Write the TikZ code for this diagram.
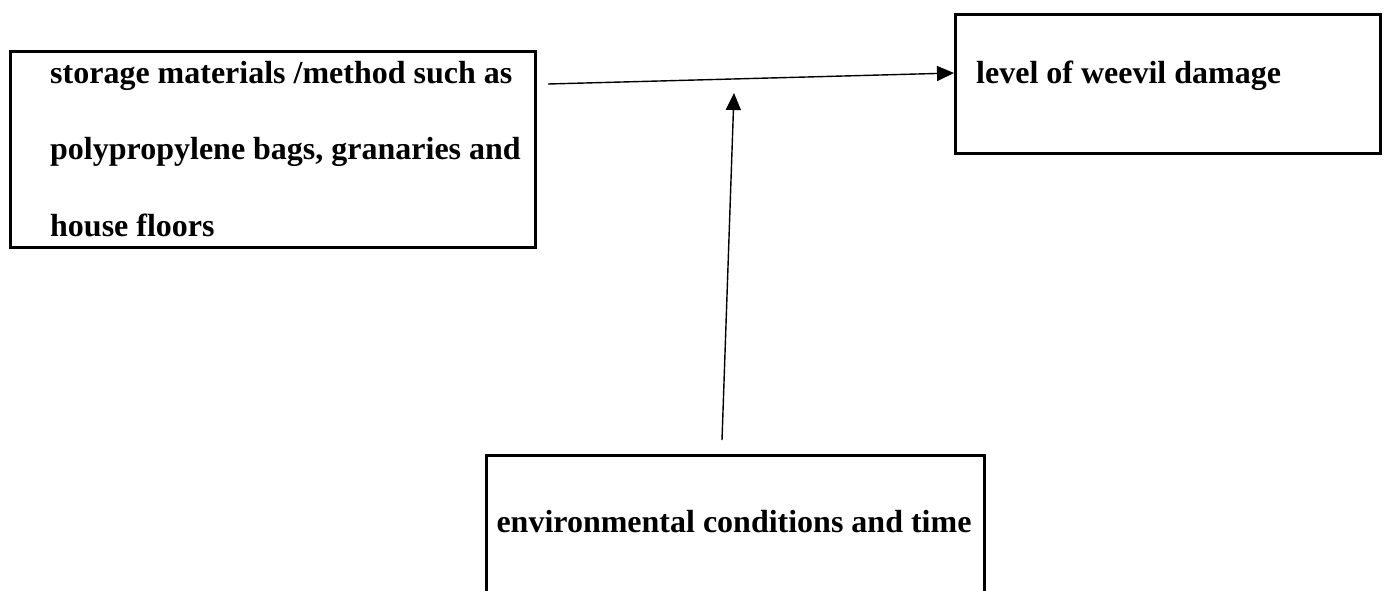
\documentclass[tikz,border=0pt]{standalone}
\usepackage{fontspec}
\setmainfont{Liberation Serif}
\usetikzlibrary{arrows.meta}
\begin{document}
\begin{tikzpicture}[x=1pt,y=-1pt,
  box/.style={draw=black, line width=3pt, rectangle, inner sep=0pt, anchor=north west},
  lbl/.style={font=\fontsize{32}{76.5}\selectfont\bfseries, inner sep=0pt, align=left},
  arr/.style={line width=1.4pt, -{Triangle[length=17pt,width=15pt]}}]
\useasboundingbox (0,0) rectangle (1386,590);
\clip (0,0) rectangle (1386,590);
\fill[white] (0,0) rectangle (1386,590);
% boxes
\node[box, minimum width=525pt, minimum height=196pt] (src) at (9,50) {};
\node[box, minimum width=425pt, minimum height=139pt] (dst) at (954,13) {};
\node[box, minimum width=498pt, minimum height=200pt] (env) at (485,454) {};
% texts
\node[lbl, anchor=base west] (srct) at (50,236) {storage materials /method such as\\polypropylene bags, granaries and\\house floors};
\node[lbl, anchor=base west] (dstt) at (976,83) {level of weevil damage};
\node[lbl, anchor=base] (envt) at (734,532) {environmental conditions and time};
% connectors
\coordinate (s1) at (548,84);
\coordinate (e1) at (dst.west |- 0,73);
\coordinate (s2) at (722,440);
\coordinate (e2) at (734,93);
\draw[arr] (s1) -- (e1);
\draw[arr] (s2) -- (e2);
\end{tikzpicture}
\end{document}
